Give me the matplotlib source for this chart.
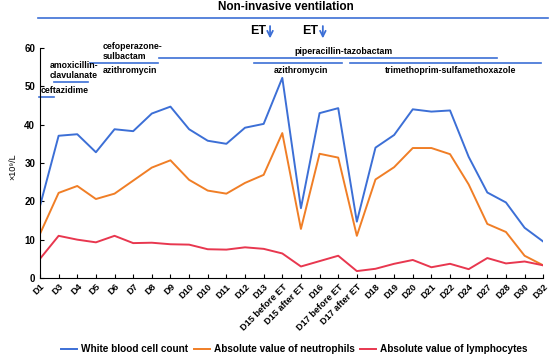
import numpy as np
import matplotlib
matplotlib.use("Agg")
import matplotlib.pyplot as plt

plt.rcParams['font.family'] = ['Liberation Sans', 'DejaVu Sans']
plt.rcParams['font.weight'] = 'bold'

days = ['D1', 'D3', 'D4', 'D5', 'D6', 'D7', 'D8', 'D9', 'D10', 'D10', 'D11', 'D12', 'D13',
        'D15 before ET', 'D15 after ET', 'D16', 'D17 before ET', 'D17 after ET', 'D18', 'D19',
        'D20', 'D21', 'D22', 'D24', 'D27', 'D28', 'D30', 'D32']

wbc = [18.8, 37.1, 37.5, 32.8, 38.8, 38.3, 42.9, 44.7, 38.8, 35.8, 35.0, 39.2, 40.2,
       52.2, 18.2, 43.0, 44.3, 14.7, 34.0, 37.3, 44.0, 43.4, 43.7, 31.6, 22.3, 19.7, 13.1, 9.5]
neut = [11.5, 22.2, 24.0, 20.6, 22.0, 25.4, 28.8, 30.7, 25.6, 22.8, 22.0, 24.8, 26.9,
        37.8, 12.8, 32.4, 31.4, 11.0, 25.7, 28.9, 33.9, 33.9, 32.3, 24.4, 14.1, 12.0, 5.8, 3.3]
lymph = [5.0, 11.0, 10.0, 9.3, 11.0, 9.1, 9.2, 8.8, 8.7, 7.5, 7.4, 8.0, 7.6,
         6.4, 3.0, 4.4, 5.8, 1.8, 2.4, 3.7, 4.7, 2.8, 3.7, 2.3, 5.2, 3.8, 4.3, 3.3]

# drug courses: (label, start idx, end idx, line level, text x, text y, align)
drugs = [
    ('ceftazidime', -0.05, 0.75, 47.3, 0.05, 48.8, 'left'),
    ('amoxicillin-\nclavulanate', 0.75, 2.6, 51.0, 0.53, 54.2, 'left'),
    ('cefoperazone-\nsulbactam', 2.67, 6.35, 56.2, 3.36, 59.0, 'left'),
    ('azithromycin', None, None, None, 3.36, 54.0, 'left'),
    ('piperacillin-tazobactam', 6.4, 24.5, 57.5, 16.3, 59.0, 'center'),
    ('azithromycin', 11.5, 16.2, 56.0, 14.0, 54.0, 'center'),
    ('trimethoprim-sulfamethoxazole', 16.65, 26.9, 56.0, 22.0, 54.0, 'center'),
]

c_blue = '#3C6FD6'
c_orange = '#F07E26'
c_red = '#E8374F'

fig = plt.figure(figsize=(5.5, 3.58), dpi=100)
ax = fig.add_axes([0.0727, 0.2235, 0.915, 0.6425])

x = np.arange(len(days))
ax.plot(x, wbc, color=c_blue, lw=1.4, label='White blood cell count')
ax.plot(x, neut, color=c_orange, lw=1.4, label='Absolute value of neutrophils')
ax.plot(x, lymph, color=c_red, lw=1.4, label='Absolute value of lymphocytes')

ax.set_xlim(0, len(days) - 1)
ax.set_ylim(0, 60)
ax.set_yticks(range(0, 61, 10))
ax.set_xticks(x)
ax.set_xticklabels(days, rotation=45, ha='right', rotation_mode='anchor', fontsize=6.6)
ax.tick_params(axis='y', labelsize=7, direction='in', length=3)
ax.tick_params(axis='x', direction='in', length=3, pad=3)
for s in ['top', 'right']:
    ax.spines[s].set_visible(False)
fig.text(0.024, 0.534, '×10⁹/L', fontsize=6.5, fontweight='normal',
         rotation=90, ha='center', va='center')

for name, x0, x1, lvl, tx, ty, ha in drugs:
    if x0 is not None:
        ax.plot([x0, x1], [lvl, lvl], color=c_blue, lw=1.2, clip_on=False)
    ax.text(tx, ty, name, fontsize=6.3, ha=ha, va='center', linespacing=1.1)

# non-invasive ventilation bar
fig.text(0.52, 0.98, 'Non-invasive ventilation', fontsize=8.5, ha='center', va='center')
fig.add_artist(plt.Line2D([0.069, 0.996], [0.95, 0.95], color=c_blue, lw=1.2))

# endotracheal intubation arrows
for ax_x in [0.491, 0.587]:
    fig.text(ax_x - 0.008, 0.913, 'ET', fontsize=9, ha='right', va='center')
    ax.annotate('', xy=(ax_x, 0.885), xytext=(ax_x, 0.935), xycoords='figure fraction',
                arrowprops=dict(arrowstyle='->', color=c_blue, lw=1.3))

fig.legend(loc='center', bbox_to_anchor=(0.535, 0.025), ncol=3, frameon=False,
           fontsize=7.2, handlelength=1.6, columnspacing=0.6, handletextpad=0.4)

fig.savefig('out.png', dpi=100)
